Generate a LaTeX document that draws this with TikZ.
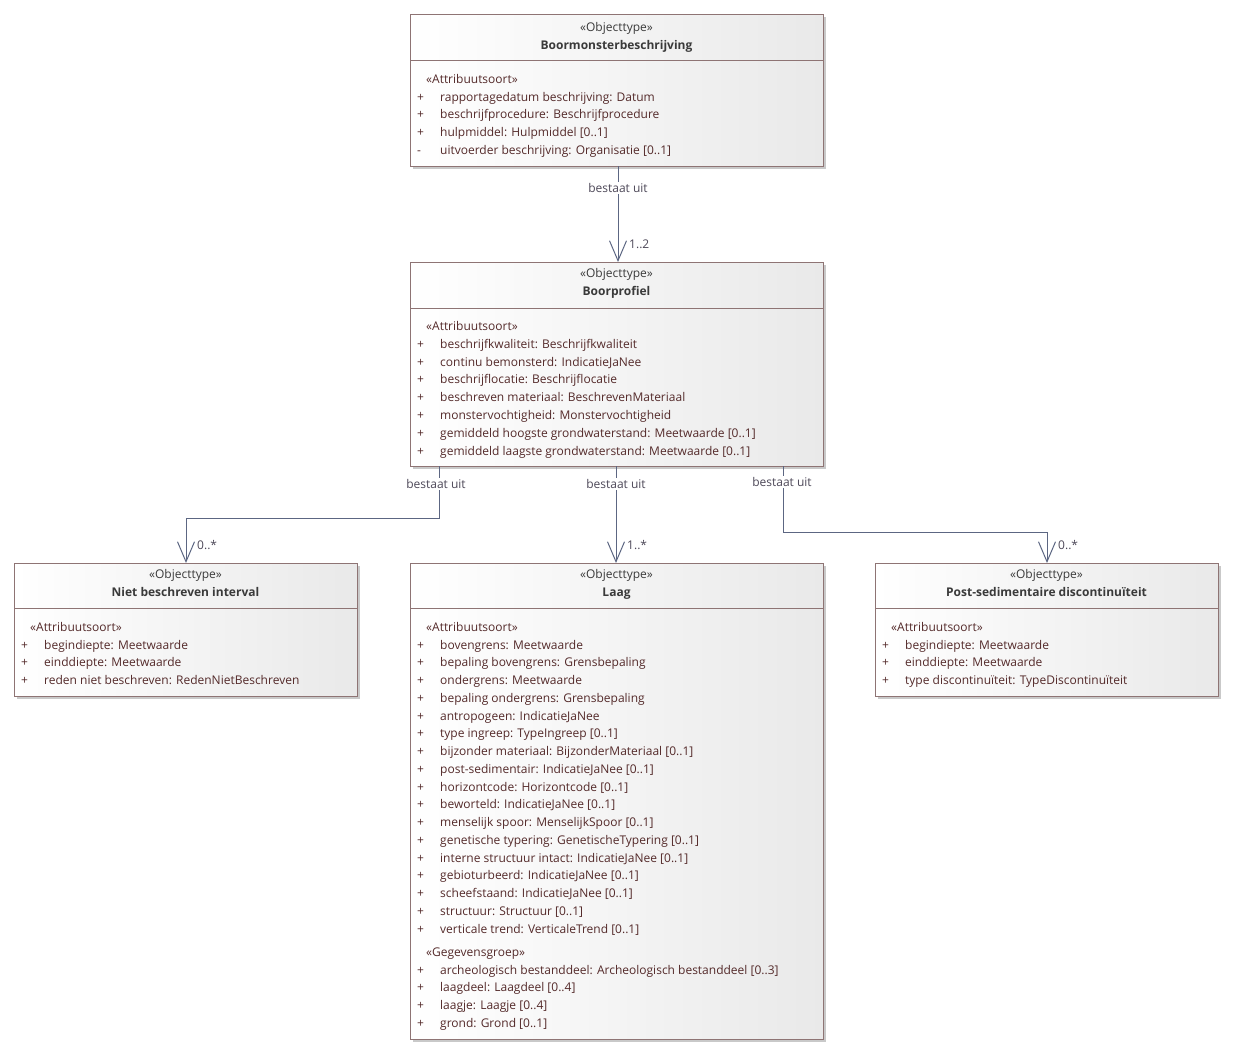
\documentclass[tikz,border=0pt]{standalone}
\usepackage{fontspec}
\setmainfont{Open Sans}
\usetikzlibrary{arrows.meta,shadows,calc}
\definecolor{boxc}{HTML}{8E7474}
\definecolor{fillg}{HTML}{E9E9E9}
\definecolor{shadowc}{HTML}{C9C9C9}
\definecolor{linec}{HTML}{5C6682}
\definecolor{headc}{HTML}{3A3A3A}
\definecolor{attrc}{HTML}{542A2A}
\definecolor{lblc}{HTML}{4D4858}
\tikzset{
  umlbox/.style={rectangle, draw=boxc, line width=0.9pt, left color=white, right color=fillg,
    drop shadow={shadow xshift=3pt, shadow yshift=-3pt, fill=shadowc, opacity=1},
    inner sep=0pt, anchor=north west},
  divider/.style={draw=boxc, line width=0.9pt},
  stereo/.style={font=\fontsize{12}{14}\selectfont, text=headc, inner sep=0pt, anchor=mid},
  cname/.style={font=\fontsize{12}{14}\selectfont\bfseries, text=headc, inner sep=0pt, anchor=mid},
  attr/.style={font=\fontsize{12}{14}\selectfont, text=attrc, inner sep=0pt, anchor=mid west},
  conn/.style={draw=linec, line width=1pt},
  assoc/.style={conn, -{Straight Barb[length=20pt,width=17pt,line width=1pt]}},
  lbl/.style={font=\fontsize{12}{14}\selectfont, text=lblc, fill=white, inner sep=1.5pt, anchor=mid},
  mult/.style={font=\fontsize{12}{14}\selectfont, text=lblc, inner sep=0pt, anchor=mid west}
}
\begin{document}
\begin{tikzpicture}[x=1pt,y=-1pt]
\useasboundingbox (0,0) rectangle (1237,1057);

% ---------- Boormonsterbeschrijving ----------
\node[umlbox, minimum width=413pt, minimum height=152pt] (bm) at (410,14) {};
\draw[divider] (410,60) -- (823,60);
\node[stereo] (bmst) at (616.5,28.5) {«Objecttype»};
\node[cname] (bmnm) at (616.5,46.5) {Boormonsterbeschrijving};
\node[attr] (bmat) at (426,80.5) {«Attribuutsoort»};
\foreach \s/\t [count=\i] in {+/{rapportagedatum beschrijving: Datum}, +/{beschrijfprocedure: Beschrijfprocedure}, +/{hulpmiddel: Hulpmiddel [0..1]}, -/{uitvoerder beschrijving: Organisatie [0..1]}}
{ \node[attr] (bms\i) at (417,{98.5+(\i-1)*17.8}) {\s};
  \node[attr] (bma\i) at (440,{98.5+(\i-1)*17.8}) {\t}; }

% ---------- Boorprofiel ----------
\node[umlbox, minimum width=413pt, minimum height=204pt] (bp) at (410,262) {};
\draw[divider] (410,308) -- (823,308);
\node[stereo] (bpst) at (616.5,274.5) {«Objecttype»};
\node[cname] (bpnm) at (616.5,292.5) {Boorprofiel};
\node[attr] (bpat) at (426,327.5) {«Attribuutsoort»};
\foreach \t [count=\i] in {{beschrijfkwaliteit: Beschrijfkwaliteit}, {continu bemonsterd: IndicatieJaNee}, {beschrijflocatie: Beschrijflocatie}, {beschreven materiaal: BeschrevenMateriaal}, {monstervochtigheid: Monstervochtigheid}, {gemiddeld hoogste grondwaterstand: Meetwaarde [0..1]}, {gemiddeld laagste grondwaterstand: Meetwaarde [0..1]}}
{ \node[attr] (bps\i) at (417,{345.5+(\i-1)*17.83}) {+};
  \node[attr] (bpa\i) at (440,{345.5+(\i-1)*17.83}) {\t}; }

% ---------- Niet beschreven interval ----------
\node[umlbox, minimum width=343pt, minimum height=133pt] (nb) at (14,563) {};
\draw[divider] (14,608) -- (357,608);
\node[stereo] (nbst) at (185.5,575.5) {«Objecttype»};
\node[cname] (nbnm) at (185.5,593.5) {Niet beschreven interval};
\node[attr] (nbat) at (30,628.5) {«Attribuutsoort»};
\foreach \t [count=\i] in {{begindiepte: Meetwaarde}, {einddiepte: Meetwaarde}, {reden niet beschreven: RedenNietBeschreven}}
{ \node[attr] (nbs\i) at (21,{646.5+(\i-1)*17.6}) {+};
  \node[attr] (nba\i) at (44,{646.5+(\i-1)*17.6}) {\t}; }

% ---------- Laag ----------
\node[umlbox, minimum width=413pt, minimum height=476pt] (lg) at (410,563) {};
\draw[divider] (410,608) -- (823,608);
\node[stereo] (lgst) at (616.5,575.5) {«Objecttype»};
\node[cname] (lgnm) at (616.5,593.5) {Laag};
\node[attr] (lgat) at (426,628.5) {«Attribuutsoort»};
\foreach \t [count=\i] in {{bovengrens: Meetwaarde}, {bepaling bovengrens: Grensbepaling}, {ondergrens: Meetwaarde}, {bepaling ondergrens: Grensbepaling}, {antropogeen: IndicatieJaNee}, {type ingreep: TypeIngreep [0..1]}, {bijzonder materiaal: BijzonderMateriaal [0..1]}, {post-sedimentair: IndicatieJaNee [0..1]}, {horizontcode: Horizontcode [0..1]}, {beworteld: IndicatieJaNee [0..1]}, {menselijk spoor: MenselijkSpoor [0..1]}, {genetische typering: GenetischeTypering [0..1]}, {interne structuur intact: IndicatieJaNee [0..1]}, {gebioturbeerd: IndicatieJaNee [0..1]}, {scheefstaand: IndicatieJaNee [0..1]}, {structuur: Structuur [0..1]}, {verticale trend: VerticaleTrend [0..1]}}
{ \node[attr] (lgs\i) at (417,{646.5+(\i-1)*17.75}) {+};
  \node[attr] (lga\i) at (440,{646.5+(\i-1)*17.75}) {\t}; }
\node[attr] (lggg) at (426,953.5) {«Gegevensgroep»};
\foreach \t [count=\i] in {{archeologisch bestanddeel: Archeologisch bestanddeel [0..3]}, {laagdeel: Laagdeel [0..4]}, {laagje: Laagje [0..4]}, {grond: Grond [0..1]}}
{ \node[attr] (lggs\i) at (417,{971.5+(\i-1)*17.7}) {+};
  \node[attr] (lgga\i) at (440,{971.5+(\i-1)*17.7}) {\t}; }

% ---------- Post-sedimentaire discontinuiteit ----------
\node[umlbox, minimum width=343pt, minimum height=133pt] (ps) at (875,563) {};
\draw[divider] (875,608) -- (1218,608);
\node[stereo] (psst) at (1046.5,575.5) {«Objecttype»};
\node[cname] (psnm) at (1046.5,593.5) {Post-sedimentaire discontinuïteit};
\node[attr] (psat) at (891,628.5) {«Attribuutsoort»};
\foreach \t [count=\i] in {{begindiepte: Meetwaarde}, {einddiepte: Meetwaarde}, {type discontinuïteit: TypeDiscontinuïteit}}
{ \node[attr] (pss\i) at (882,{646.5+(\i-1)*17.6}) {+};
  \node[attr] (psa\i) at (905,{646.5+(\i-1)*17.6}) {\t}; }

% ---------- connectors ----------
\coordinate (a1) at (618,166);
\coordinate (a2) at (618,262);
\draw[assoc] (a1) -- (a2);
\node[lbl] (l1) at (618,189.5) {bestaat uit};
\node[mult] (m1) at (629,245.5) {1..2};

\coordinate (b1) at (439,466);
\coordinate (b2) at (439,518);
\coordinate (b3) at (186,518);
\coordinate (b4) at (186,563);
\draw[assoc] (b1) -- (b2) -- (b3) -- (b4);
\node[lbl] (l2) at (436,485.5) {bestaat uit};
\node[mult] (m2) at (197,546.5) {0..*};

\coordinate (c1) at (616,466);
\coordinate (c2) at (616,563);
\draw[assoc] (c1) -- (c2);
\node[lbl] (l3) at (616,485.5) {bestaat uit};
\node[mult] (m3) at (627,546.5) {1..*};

\coordinate (d1) at (783,466);
\coordinate (d2) at (783,532);
\coordinate (d3) at (1047,532);
\coordinate (d4) at (1047,563);
\draw[assoc] (d1) -- (d2) -- (d3) -- (d4);
\node[lbl] (l4) at (782,483.5) {bestaat uit};
\node[mult] (m4) at (1058,546.5) {0..*};
\end{tikzpicture}
\end{document}
